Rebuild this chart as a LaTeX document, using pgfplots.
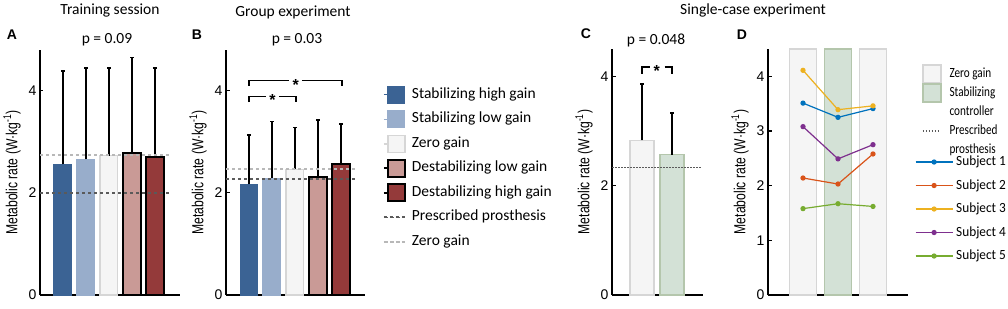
\documentclass[border=0pt]{standalone}
\usepackage{pgfplots}
\pgfplotsset{compat=1.18}
\usepackage{fontspec}
\setmainfont{Liberation Sans}
\newfontfamily\calfont{Carlito}
\newfontfamily\subjfont[FakeStretch=0.95]{Carlito}
\newfontfamily\patchfont[FakeStretch=0.8]{Carlito}
\newfontfamily\ylabfont[FakeStretch=0.76]{Liberation Sans}
\newcommand{\fs}[1]{\fontsize{#1}{#1}\selectfont}
\definecolor{stabhigh}{HTML}{3B6394}
\definecolor{stablow}{HTML}{98ADCB}
\definecolor{zerofill}{HTML}{F5F5F5}
\definecolor{zerodraw}{HTML}{D6D6D6}
\definecolor{destablow}{HTML}{C99A96}
\definecolor{destabhigh}{HTML}{943A3A}
\definecolor{greenfill}{HTML}{D3E1D6}
\definecolor{greendraw}{HTML}{B4C6AC}
\definecolor{darkdash}{HTML}{5A5A5A}
\definecolor{lightdash}{HTML}{B8B8B8}
\definecolor{m1}{HTML}{0072BD}
\definecolor{m2}{HTML}{D95319}
\definecolor{m3}{HTML}{EDB120}
\definecolor{m4}{HTML}{7E2F8E}
\definecolor{m5}{HTML}{77AC30}
\pgfplotsset{
  panel/.style={scale only axis, anchor=south west, axis lines=left,
    axis line style={-, line width=1.3pt, black}, xtick=\empty, ymin=0,
    tick align=inside, major tick length=3.5pt, ytick style={line width=1.1pt, black},
    yticklabel style={font=\fs{14}}, /pgf/number format/assume math mode=true,
    ylabel={Metabolic rate (W·kg\textsuperscript{-1})},
    ylabel style={at={(axis description cs:0,0.5)}, anchor=south, yshift=19pt, inner sep=0pt, font=\ylabfont\fs{16}},
    clip=false},
  errs/.style={error bars/.cd, y dir=plus, y explicit,
    error bar style={line width=1.5pt, black},
    error mark options={rotate=90, mark size=1.8pt, line width=1.5pt, black}, /pgfplots/.cd},
  patchB/.style={legend image code/.code={\path (0pt,0pt) -- (21pt,0pt);
    \draw[##1,overlay] (4pt,-8.5pt) rectangle (21pt,8.5pt);}},
  lineB/.style={legend image code/.code={\path (0pt,0pt) -- (21pt,0pt);
    \draw[##1,dash pattern=on 1.5pt off 1.5pt,line width=1.5pt] (0pt,0pt) -- (20pt,0pt);}},
  patchD/.style={legend image code/.code={\path (0pt,0pt) -- (18pt,0pt);
    \draw[##1,overlay] (0pt,-9pt) rectangle (18pt,9pt);}},
  lineD/.style={legend image code/.code={\path (0pt,0pt) -- (18pt,0pt);
    \draw[##1] (0pt,0pt) -- (16pt,0pt);}},
  subj/.style={legend image code/.code={\draw[##1,mark repeat=2,mark phase=2] plot coordinates {(0pt,0pt) (18.5pt,0pt) (37pt,0pt)};}},
  legcommon/.style={draw=none, fill=none, inner sep=0pt, outer sep=0pt,
    nodes={inner xsep=0pt, inner ysep=0pt, text height=10pt, text depth=3pt}},
}
\begin{document}
\begin{tikzpicture}
\path[use as bounding box] (0,0) rectangle (1008pt,308pt);

% titles and labels
\node[font=\calfont\fs{15.5}] at (110pt,297pt) {Training session};
\node[font=\calfont\fs{15.5}] at (293pt,296pt) {Group experiment};
\node[font=\calfont\fs{15.5}] at (753pt,297.5pt) {Single-case experiment};
\node[font=\bfseries\fs{14}] at (12pt,273pt) {A};
\node[font=\bfseries\fs{14}] at (197pt,273pt) {B};
\node[font=\bfseries\fs{14}] at (586pt,274pt) {C};
\node[font=\bfseries\fs{14}] at (742pt,273pt) {D};
\node[font=\calfont\fs{15.5}] at (107pt,268pt) {p = 0.09};
\node[font=\calfont\fs{15.5}] at (297pt,268pt) {p = 0.03};
\node[font=\calfont\fs{15.5}] at (656pt,268pt) {p = 0.048};

% ---------------- A ----------------
\begin{axis}[panel, at={(40pt,13pt)}, width=140pt, height=245pt,
  xmin=0, xmax=6.1, ymax=4.8, ytick={0,2,4}]
\addplot[ybar, bar shift=0pt, bar width=0.78, fill=stabhigh, draw=stabhigh, line width=1pt, errs] coordinates {(1,2.56) +- (0,1.83)};
\addplot[ybar, bar shift=0pt, bar width=0.78, fill=stablow, draw=stablow, line width=1pt, errs] coordinates {(2,2.66) +- (0,1.79)};
\addplot[ybar, bar shift=0pt, bar width=0.78, fill=zerofill, draw=zerodraw, line width=1.2pt, errs] coordinates {(3,2.73) +- (0,1.72)};
\addplot[ybar, bar shift=0pt, bar width=0.78, fill=destablow, draw=black, line width=2pt, errs] coordinates {(4,2.78) +- (0,1.87)};
\addplot[ybar, bar shift=0pt, bar width=0.78, fill=destabhigh, draw=black, line width=2pt, errs] coordinates {(5,2.71) +- (0,1.74)};
\addplot[lightdash, line width=2pt, dash pattern=on 3pt off 3pt] coordinates {(0,2.75) (5.75,2.75)};
\addplot[darkdash, line width=2pt, dash pattern=on 3pt off 3pt] coordinates {(0,2.0) (5.75,2.0)};
\end{axis}

% ---------------- B ----------------
\begin{axis}[panel, at={(226pt,13pt)}, width=139pt, height=245pt,
  xmin=0, xmax=6.05, ymax=4.8, ytick={0,2,4},
  legend cell align=left,
  legend style={legcommon, font=\calfont\fs{15.5}, at={(axis description cs:1.129,0.843)}, anchor=north west, row sep=11.5pt,
    /tikz/every odd column/.append style={column sep=6pt}}]
\addplot[ybar, bar shift=0pt, bar width=0.78, fill=stabhigh, draw=stabhigh, line width=1pt, errs, patchB] coordinates {(1,2.17) +- (0,0.96)};
\addlegendentry{Stabilizing high gain}
\addplot[ybar, bar shift=0pt, bar width=0.78, fill=stablow, draw=stablow, line width=1pt, errs, patchB] coordinates {(2,2.29) +- (0,1.11)};
\addlegendentry{Stabilizing low gain}
\addplot[ybar, bar shift=0pt, bar width=0.78, fill=zerofill, draw=zerodraw, line width=1.2pt, errs, patchB] coordinates {(3,2.46) +- (0,0.82)};
\addlegendentry{Zero gain}
\addplot[ybar, bar shift=0pt, bar width=0.78, fill=destablow, draw=black, line width=2pt, errs, patchB] coordinates {(4,2.31) +- (0,1.12)};
\addlegendentry{Destabilizing low gain}
\addplot[ybar, bar shift=0pt, bar width=0.78, fill=destabhigh, draw=black, line width=2pt, errs, patchB] coordinates {(5,2.57) +- (0,0.78)};
\addlegendentry{Destabilizing high gain}
\addplot[darkdash, line width=2pt, dash pattern=on 3pt off 3pt, lineB] coordinates {(0,2.28) (5.6,2.28)};
\addlegendentry{Prescribed prosthesis}
\addplot[lightdash, line width=2pt, dash pattern=on 3pt off 3pt, lineB] coordinates {(0,2.46) (5.6,2.46)};
\addlegendentry{Zero gain}
\draw[line width=1.5pt] (axis cs:1,3.78) |- (axis cs:1.75,3.89);
\draw[line width=1.5pt] (axis cs:2.3,3.89) -| (axis cs:3.05,3.78);
\node[font=\bfseries\fs{16}, yshift=-4pt] at (axis cs:2.02,3.89) {*};
\draw[line width=1.5pt] (axis cs:1,4.10) |- (axis cs:2.75,4.20);
\draw[line width=1.5pt] (axis cs:3.3,4.20) -| (axis cs:5.04,4.10);
\node[font=\bfseries\fs{16}, yshift=-4pt] at (axis cs:3.03,4.20) {*};
\end{axis}

% ---------------- C ----------------
\begin{axis}[panel, at={(612pt,13pt)}, width=91pt, height=246pt,
  xmin=0, xmax=3.03, ymax=4.5, ytick={0,2,4}]
\addplot[ybar, bar shift=0pt, bar width=0.8, fill=zerofill, draw=zerodraw, line width=1.5pt, errs] coordinates {(1,2.83) +- (0,1.03)};
\addplot[ybar, bar shift=0pt, bar width=0.8, fill=greenfill, draw=greendraw, line width=1.5pt, errs] coordinates {(2,2.57) +- (0,0.76)};
\addplot[darkdash, line width=1.2pt, dash pattern=on 1.5pt off 1.5pt] coordinates {(0,2.33) (2.95,2.33)};
\draw[line width=1.5pt] (axis cs:1,4.05) |- (axis cs:1.27,4.17);
\draw[line width=1.5pt] (axis cs:1.75,4.17) -| (axis cs:2,4.05);
\node[font=\bfseries\fs{16}, yshift=-4pt] at (axis cs:1.49,4.17) {*};
\end{axis}

% ---------------- D ----------------
\begin{axis}[panel, at={(768pt,13pt)}, width=140pt, height=246pt,
  xmin=0, xmax=4, ymax=4.5, ytick={0,1,2,3,4},
  legend cell align=left,
  legend style={legcommon, font=\subjfont\fs{14}, at={(axis description cs:1.05,0.567)}, anchor=north west, row sep=10.5pt,
    /tikz/every odd column/.append style={column sep=3pt}}]
\addplot[ybar, bar shift=0pt, bar width=0.77, fill=zerofill, draw=zerodraw, line width=1.5pt, forget plot] coordinates {(1,4.5) (3,4.5)};
\addplot[ybar, bar shift=0pt, bar width=0.77, fill=greenfill, draw=greendraw, line width=1.5pt, forget plot] coordinates {(2,4.5)};
\addplot[m1, line width=1.2pt, mark=*, mark size=2pt, subj] coordinates {(1,3.51) (2,3.25) (3,3.41)};
\addlegendentry{Subject 1}
\addplot[m2, line width=1.2pt, mark=*, mark size=2pt, subj] coordinates {(1,2.14) (2,2.03) (3,2.58)};
\addlegendentry{Subject 2}
\addplot[m3, line width=1.2pt, mark=*, mark size=2pt, subj] coordinates {(1,4.11) (2,3.39) (3,3.46)};
\addlegendentry{Subject 3}
\addplot[m4, line width=1.2pt, mark=*, mark size=2pt, subj] coordinates {(1,3.08) (2,2.49) (3,2.75)};
\addlegendentry{Subject 4}
\addplot[m5, line width=1.2pt, mark=*, mark size=2pt, subj] coordinates {(1,1.58) (2,1.67) (3,1.62)};
\addlegendentry{Subject 5}
\end{axis}

% legend for D patches
\begin{axis}[hide axis, scale only axis, width=1pt, height=1pt, at={(922pt,240.5pt)}, anchor=north west,
  xmin=0, xmax=1, ymin=0, ymax=1, legend cell align=left,
  legend style={legcommon, font=\patchfont\fs{14}, at={(0,1)}, anchor=north west, row sep=6pt,
    /tikz/every odd column/.append style={column sep=8pt}}]
\addlegendimage{fill=zerofill, draw=zerodraw, line width=1.5pt, patchD}
\addlegendentry{Zero gain}
\addlegendimage{fill=greenfill, draw=greendraw, line width=1.5pt, patchD}
\addlegendentry{Stabilizing}
\addlegendimage{empty legend}
\addlegendentry{controller}
\addlegendimage{darkdash, line width=1.3pt, dash pattern=on 1.5pt off 1.5pt, lineD}
\addlegendentry{Prescribed}
\addlegendimage{empty legend}
\addlegendentry{prosthesis}
\end{axis}
\end{tikzpicture}
\end{document}
